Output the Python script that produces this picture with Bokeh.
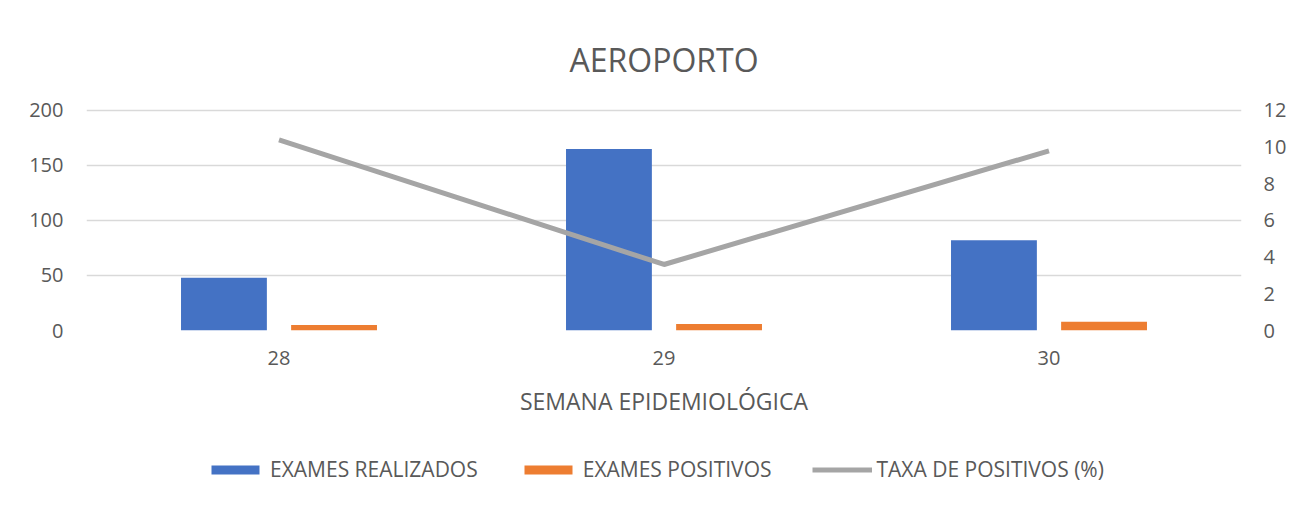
from bokeh.plotting import figure
from bokeh.models import (FactorRange, Range1d, LinearAxis, FixedTicker, Legend, LegendItem,
                          ColumnDataSource)
from bokeh.layouts import column
from bokeh.transform import dodge
from bokeh.embed import file_html
from bokeh.resources import INLINE

semanas = ["28", "29", "30"]
exames_realizados = [48, 165, 82]
exames_positivos = [5, 6, 8]
taxa_positivos = [10.4, 3.6, 9.8]

left_ticks = [0, 50, 100, 150, 200]
right_ticks = [0, 2, 4, 6, 8, 10, 12]
series_names = ["EXAMES REALIZADOS", "EXAMES POSITIVOS", "TAXA DE POSITIVOS (%)"]

BLUE = "#4472c4"
ORANGE = "#ed7d31"
GRAY = "#a5a5a5"
TXT = "#595959"
GRID = "#d9d9d9"
FONT = "Open Sans"

src = ColumnDataSource(dict(semana=semanas, real=exames_realizados,
                            pos=exames_positivos, taxa=taxa_positivos))

p = figure(frame_width=1155, frame_height=222, x_range=FactorRange(factors=semanas),
           y_range=Range1d(0, 201.8), output_backend="svg", toolbar_location=None,
           min_border_left=86, min_border_right=63, min_border_top=108, min_border_bottom=110,
           title="AEROPORTO")
p.extra_y_ranges = {"right": Range1d(0, 12 * 201.8 / 200)}
p.outline_line_color = None

p.title.align = "center"
p.title.text_font = FONT
p.title.text_font_size = "32px"
p.title.text_font_style = "normal"
p.title.text_color = TXT
p.title.standoff = 56

p.vbar(x=dodge("semana", -0.143, range=p.x_range), top="real", width=0.223,
       source=src, color=BLUE, line_color=None)
p.vbar(x=dodge("semana", 0.143, range=p.x_range), top="pos", width=0.223,
       source=src, color=ORANGE, line_color=None)
p.line(x="semana", y="taxa", source=src, y_range_name="right",
       line_color=GRAY, line_width=5)

# axes
p.yaxis.ticker = FixedTicker(ticks=left_ticks)
right = LinearAxis(y_range_name="right", ticker=FixedTicker(ticks=right_ticks))
p.add_layout(right, "right")
for ax in [p.yaxis[0], right, p.xaxis[0]]:
    ax.axis_line_color = None
    ax.major_tick_line_color = None
    ax.minor_tick_line_color = None
    ax.major_label_text_font = FONT
    ax.major_label_text_font_size = "20px"
    ax.major_label_text_color = TXT
p.yaxis[0].major_label_standoff = 17
right.major_label_standoff = 16
p.xaxis.major_label_standoff = 14
p.xaxis.axis_label = "SEMANA EPIDEMIOLÓGICA"
p.xaxis.axis_label_text_font = FONT
p.xaxis.axis_label_text_font_size = "23px"
p.xaxis.axis_label_text_font_style = "normal"
p.xaxis.axis_label_text_color = TXT
p.xaxis.axis_label_standoff = 17

p.xgrid.grid_line_color = None
p.ygrid.grid_line_color = GRID
p.ygrid.grid_line_width = 1.5

# legend strip below the chart (same series, drawn outside its visible range)
lf = figure(width=1304, height=65, x_range=FactorRange(factors=semanas),
            y_range=Range1d(1000, 1001), output_backend="svg", toolbar_location=None,
            x_axis_type=None, y_axis_type=None, min_border=0)
lf.outline_line_color = None
lf.grid.visible = False
l1 = lf.vbar(x="semana", top="real", width=0.2, source=src, color=BLUE, line_color=None)
l2 = lf.vbar(x="semana", top="pos", width=0.2, source=src, color=ORANGE, line_color=None)
l3 = lf.line(x="semana", y="taxa", source=src, line_color=GRAY, line_width=5)

legend = Legend(items=[LegendItem(label=series_names[0], renderers=[l1]),
                       LegendItem(label=series_names[1], renderers=[l2]),
                       LegendItem(label=series_names[2], renderers=[l3])],
                orientation="horizontal", location=(119, 22))
legend.border_line_color = None
legend.background_fill_alpha = 0
legend.label_text_font = FONT
legend.label_text_font_size = "21px"
legend.label_text_color = TXT
legend.glyph_width = 60
legend.glyph_height = 11
legend.label_standoff = 5
legend.spacing = 40
legend.padding = 0
legend.margin = 0
lf.add_layout(legend, "center")

layout = column(p, lf, spacing=0)
open("out.html", "w").write(file_html(layout, INLINE))
